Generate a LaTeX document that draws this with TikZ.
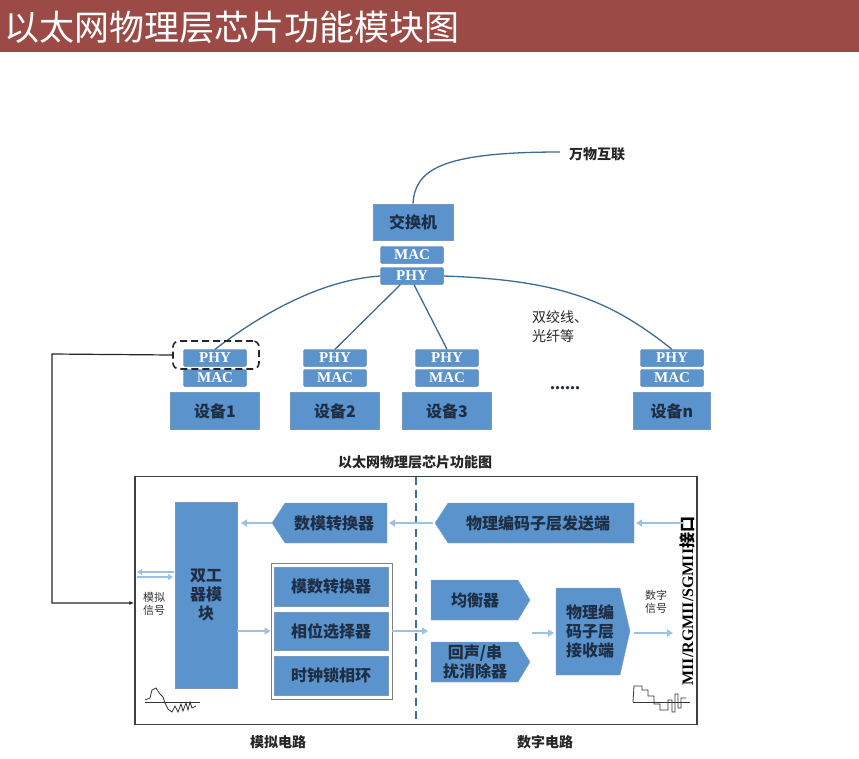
\documentclass[tikz,border=0pt]{standalone}
\usepackage{fontspec}
\setmainfont{Liberation Serif}
\newfontfamily\cjk{Noto Sans CJK SC}
\usetikzlibrary{arrows.meta}
\definecolor{bar}{HTML}{9B4A45}
\definecolor{boxf}{HTML}{5B93CC}
\definecolor{boxd}{HTML}{3E6E9E}
\definecolor{lnk}{HTML}{3F6A93}
\definecolor{arr}{HTML}{9CC1E4}
\definecolor{txt}{HTML}{1E2E45}
\tikzset{
 box/.style={draw=boxd!70,fill=boxf,line width=0.6pt,inner sep=0pt,font=\cjk\bfseries\fontsize{16}{19}\selectfont,text=txt,align=center},
 tag/.style={draw=boxd,fill=boxf,rounded corners=2pt,inner sep=0pt,minimum width=63pt,minimum height=17pt,font=\bfseries\fontsize{15}{15}\selectfont,text=white},
 lbl/.style={font=\cjk\bfseries\fontsize{14}{18}\selectfont,text=black!85,align=left},
 small/.style={font=\cjk\fontsize{11}{13}\selectfont,text=black!80,align=left,inner sep=0pt},
 wire/.style={draw=lnk,line width=1.3pt},
 la/.style={draw=arr,line width=2.2pt,-{Triangle[length=6pt,width=7pt]}},
}
\begin{document}
\begin{tikzpicture}[x=1pt,y=-1pt]
\useasboundingbox (0,0) rectangle (859,758);
\fill[bar] (0,0) rectangle (859,52);
\node[anchor=west,text=white,font=\cjk\fontsize{35}{38}\selectfont,inner sep=0pt] (title) at (4,27) {以太网物理层芯片功能模块图};

% top network
\node[box,minimum width=80pt,minimum height=36pt] (sw) at (413,222) {交换机};
\node[tag] (swmac) at (412,255) {MAC};
\node[tag] (swphy) at (412,276) {PHY};
\node[lbl] (wan) at (597,154) {万物互联};
\coordinate (wanend) at (560,152);
\draw[wire] (sw.north) .. controls (415,170) and (440,152) .. (wanend);

\foreach \n/\x/\w/\t in {d1/215/89/设备1, d2/335/89/设备2, d3/447/89/设备3, dn/672/77/设备n}{
  \node[tag] (\n phy) at (\x,358) {PHY};
  \node[tag] (\n mac) at (\x,378) {MAC};
  \node[box,minimum width=\w pt,minimum height=37pt] (\n) at (\x,411) {\t};
}
\node[font=\bfseries\fontsize{20}{20}\selectfont,text=txt] (dots) at (565,388) {......};
\node[lbl,font=\cjk\fontsize{14}{19}\selectfont] (twist) at (560,327) {双绞线、\\光纤等};
\draw[wire] (swphy.west) .. controls (320,280) and (260,315) .. (d1phy.north);
\draw[wire] (swphy.south west)++(20,0) -- (d2phy.north);
\draw[wire] (swphy.south)++(2,0) -- (d3phy.north);
\draw[wire] (swphy.east) .. controls (560,280) and (610,300) .. (dnphy.north);
\node[draw=black!85,line width=1.6pt,dash pattern=on 7pt off 4pt,rounded corners=6pt,minimum width=86pt,minimum height=28pt] (sel) at (216,355) {};

% chip frame
\node[lbl] (ctitle) at (415,462) {以太网物理层芯片功能图};
\node[draw=black!75,line width=1.2pt,minimum width=562pt,minimum height=248pt,inner sep=0pt] (frame) at (416,600.5) {};
\coordinate (dtop) at (416,477);
\coordinate (dbot) at (416,724);
\draw[boxd,line width=1.5pt,dash pattern=on 8pt off 5pt] (dtop) -- (dbot);
\node[lbl] (ana) at (278,742) {模拟电路};
\node[lbl] (dig) at (545,742) {数字电路};

\coordinate (k1) at (52,354);
\coordinate (k2) at (52,603);
\draw[black!85,line width=1.2pt,-{Latex[length=5pt]}] (sel.west) -- (k1) -- (k2) -- (frame.west |- k2);

\node[box,minimum width=62pt,minimum height=186pt] (dup) at (206,595) {双工\\器模\\块};
\fill[boxf,draw=boxd!60] (285,503) -- (387,503) -- (387,543) -- (285,543) -- (272,523) -- cycle;
\node[box,draw=none,fill=none] (dac) at (334,523) {数模转换器};
\node[draw=black!50,fill=white,line width=0.8pt,minimum width=121pt,minimum height=136pt,inner sep=0pt] (grp) at (331.5,631) {};
\node[box,minimum width=114pt,minimum height=39pt] (adc) at (331,586.5) {模数转换器};
\node[box,minimum width=114pt,minimum height=38pt] (pha) at (331,631) {相位选择器};
\node[box,minimum width=114pt,minimum height=39pt] (pll) at (331,675.5) {时钟锁相环};

\fill[boxf,draw=boxd!60] (448,503) -- (634,503) -- (634,543) -- (448,543) -- (435,523) -- cycle;
\node[box,draw=none,fill=none] (ptx) at (538,523) {物理编码子层发送端};
\fill[boxf,draw=boxd!60] (431,580) -- (518,580) -- (530,600) -- (518,620) -- (431,620) -- cycle;
\node[box,draw=none,fill=none] (eq) at (475,600) {均衡器};
\fill[boxf,draw=boxd!60] (431,642) -- (518,642) -- (530,662) -- (518,682) -- (431,682) -- cycle;
\node[box,draw=none,fill=none] (echo) at (475,662) {回声/串\\扰消除器};
\fill[boxf,draw=boxd!60] (556,588) -- (620,588) -- (630,631) -- (620,675) -- (556,675) -- cycle;
\node[box,draw=none,fill=none] (prx) at (590,631) {物理编\\码子层\\接收端};

\coordinate (mii) at (683,523);
\coordinate (miib) at (673,633);
\node[rotate=90,font=\bfseries\fontsize{16}{18}\selectfont,inner sep=0pt] (miit) at (687,601) {MII/RGMII/SGMII{\cjk 接口}};
\draw[la] (mii) -- (636,523);
\draw[la] (433,523) -- (389,523);
\draw[la] (272,523) -- (241,523);
\draw[la] (dup.east |- pha) -- (grp.west |- pha);
\draw[la] (grp.east |- pha) -- (428,631);
\draw[la] (532,633) -- (554,633);
\draw[la] (634,633) -- (miib);
\draw[arr,line width=1.6pt,-{Triangle[length=5pt,width=6pt]}] (174,572) -- (137,572);
\draw[arr,line width=1.6pt,-{Triangle[length=5pt,width=6pt]}] (137,577) -- (173,577);
\node[small] (asig) at (154,604) {模拟\\信号};
\node[small] (dsig) at (656,602) {数字\\信号};

% waveforms
\draw[black!80,line width=0.8pt] (145,700) -- (150,698) -- (152,690) -- (156,688) -- (160,694) -- (163,697) -- (165,703) -- (168,709) -- (172,712) -- (175,706) -- (178,712) -- (181,704) -- (183,711) -- (186,703) -- (188,710) -- (190,702) -- (192,708) -- (196,706);
\draw[black!80,line width=0.6pt] (145,702) -- (200,702);
\draw[black!80,line width=0.8pt] (633,702) -- (634,686) -- (642,686) -- (642,690) -- (648,690) -- (648,696) -- (654,696) -- (654,704) -- (660,704) -- (660,710) -- (668,710) -- (668,700) -- (672,700) -- (672,712) -- (675,712) -- (675,694) -- (678,694) -- (678,708) -- (681,708) -- (681,698) -- (686,698);
\draw[black!80,line width=0.6pt] (633,702) -- (690,702);
\end{tikzpicture}
\end{document}
